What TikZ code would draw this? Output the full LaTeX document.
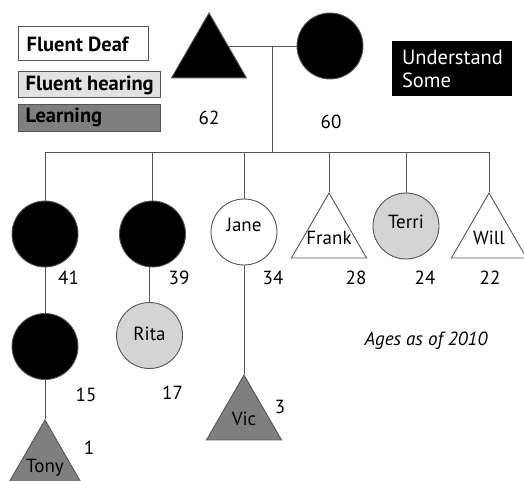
\documentclass[tikz,border=0pt]{standalone}
\usepackage{fontspec}
\setmainfont{PT Sans}
\usetikzlibrary{shapes.geometric,backgrounds}
\definecolor{linegray}{HTML}{555555}
\definecolor{hearfill}{HTML}{D4D4D4}
\definecolor{legendhear}{HTML}{E2E2E2}
\definecolor{learnfill}{HTML}{7F7F7F}
\begin{document}
\begin{tikzpicture}[x=1pt,y=-1pt,
  person/.style={draw=linegray, line width=0.9pt},
  female/.style={person, circle, minimum size=66pt, inner sep=0pt},
  male/.style={person, regular polygon, regular polygon sides=3,
    minimum size=86.6pt, inner sep=0pt},
  deaf/.style={fill=black},
  hearing/.style={fill=hearfill},
  learner/.style={fill=learnfill},
  plain/.style={fill=white},
  txt/.style={font=\fontsize{19}{22}\selectfont},
  age/.style={txt, inner sep=0pt},
  link/.style={draw=linegray, line width=0.9pt},
  legend/.style={draw=linegray, line width=1pt, inner sep=0pt},
  legendtxt/.style={anchor=west, xshift=8pt, inner sep=0pt,
    font=\fontsize{20.5}{24}\selectfont\bfseries},
]
\useasboundingbox (0,0) rectangle (524,481);
\clip (0,0) rectangle (524,481);

% legend
\node[legend, fill=white, minimum width=130pt, minimum height=34pt,
  label={[legendtxt, xshift=1pt]west:Fluent Deaf}] (lgdeaf) at (83,44) {};
\node[legend, fill=legendhear, minimum width=142pt, minimum height=26pt,
  label={[legendtxt]west:Fluent hearing}] (lghear) at (89,85) {};
\node[legend, fill=learnfill, minimum width=142pt, minimum height=27pt,
  label={[legendtxt, yshift=1pt]west:Learning}] (lglearn) at (89,118.5) {};
\node[fill=black, text=white, minimum width=120pt, minimum height=55pt,
  inner xsep=10pt, text width=100pt, align=left,
  font=\fontsize{20.5}{23}\selectfont] (lgsome) at (452,68.5) {Understand\\Some};

% grandparents
\node[male, deaf] (dad) at (209,56.3) {};
\node[female, deaf] (mom) at (330,46) {};
\node[age] (adad) at (209,118) {62};
\node[age] (amom) at (331,122) {60};

% children
\node[female, deaf] (c1) at (45,234) {};
\node[female, deaf] (c2) at (152.5,234) {};
\node[female, plain, label={[txt, yshift=7pt]center:Jane}] (jane) at (244,232) {};
\node[male, plain, label={[txt, yshift=-2pt]center:Frank}] (frank) at (329,236.3) {};
\node[female, hearing, label={[txt, yshift=4pt]center:Terri}] (terri) at (406,226) {};
\node[male, plain, label={[txt, yshift=-2pt]center:Will}] (will) at (489,236.3) {};

\node[age] (a1) at (68.5,278) {41};
\node[age] (a2) at (179,278) {39};
\node[age] (ajane) at (273,278) {34};
\node[age] (afrank) at (356,278) {28};
\node[age] (aterri) at (425,278) {24};
\node[age] (awill) at (490,278) {22};

% grandchildren
\node[female, deaf] (g1) at (45,346.5) {};
\node[female, hearing, label={[txt, yshift=2pt]center:Rita}] (rita) at (149.5,335.5) {};
\node[male, learner, label={[txt, yshift=-1pt]center:Vic}] (vic) at (244,418.3) {};
\node[age] (ag1) at (86,395) {15};
\node[age] (arita) at (172.5,393) {17};
\node[age] (avic) at (280,407) {3};

% great-grandchild
\node[male, learner, label={[txt, yshift=-4pt]center:Tony}] (tony) at (45,463.3) {};
\node[age] (atony) at (89,448) {1};

\node[txt, font=\fontsize{19}{22}\selectfont\itshape] (note) at (426,341) {Ages as of 2010};

% connectors
\coordinate (couple) at (272,46);
\coordinate (bar) at (272,152);
\begin{scope}[on background layer]
  \draw[link] (mom.west) -- (mom.west -| dad.center);
  \draw[link] (couple) -- (bar);
  \draw[link] (c1 |- bar) -- (will |- bar);
  \foreach \k in {c1,c2,jane,frank,terri,will}
    \draw[link] (\k |- bar) -- (\k.north);
  \draw[link] (c1.south) -- (g1.north);
  \draw[link] (rita.north |- c2.south) -- (rita.north);
  \draw[link] (jane.south) -- (vic.north);
  \draw[link] (g1.south) -- (tony.north);
\end{scope}
\end{tikzpicture}
\end{document}
